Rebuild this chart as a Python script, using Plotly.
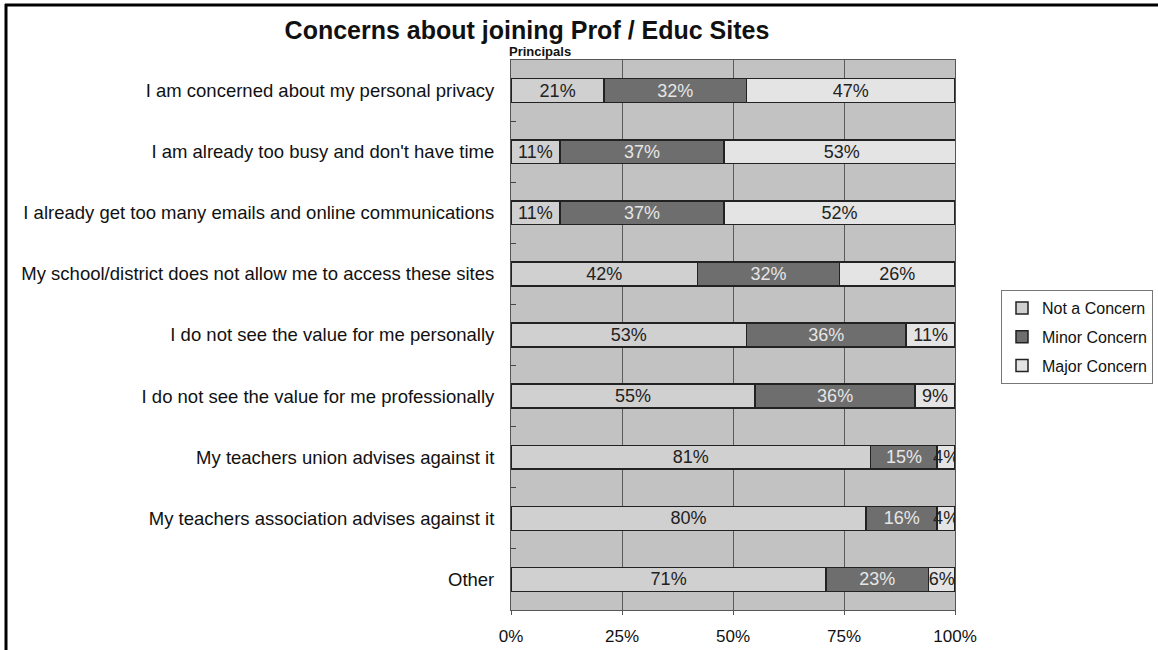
import plotly.graph_objects as go

# Survey items (top to bottom) and response shares in percent
categories = [
    "I am concerned about my personal privacy",
    "I am already too busy and don't have time",
    "I already get too many emails and online communications",
    "My school/district does not allow me to access these sites",
    "I do not see the value for me personally",
    "I do not see the value for me professionally",
    "My teachers union advises against it",
    "My teachers association advises against it",
    "Other",
]
not_a_concern = [21, 11, 11, 42, 53, 55, 81, 80, 71]
minor_concern = [32, 37, 37, 32, 36, 36, 15, 16, 23]
major_concern = [47, 53, 52, 26, 11, 9, 4, 4, 6]

x_ticks = [0, 25, 50, 75, 100]
x_tick_labels = ["0%", "25%", "50%", "75%", "100%"]

FONT = "Arial, Liberation Sans, sans-serif"
W, H = 1158, 650
# plot-area edges in page pixels
L, R, T, B = 511, 955, 60, 610

series = [
    ("Not a Concern", not_a_concern, "#d0d0d0", "#222222"),
    ("Minor Concern", minor_concern, "#6e6e6e", "#e6e6e6"),
    ("Major Concern", major_concern, "#e4e4e4", "#222222"),
]

fig = go.Figure()
for name, vals, color, txtcolor in series:
    fig.add_trace(go.Bar(
        y=categories,
        x=vals,
        name=name,
        legendgroup=name,
        orientation="h",
        width=0.39,
        marker=dict(color=color, line=dict(color="#222222", width=1.5)),
        text=[f"{v}%" for v in vals],
        textposition="inside",
        insidetextanchor="middle",
        textangle=0,
        constraintext="none",
        textfont=dict(family=FONT, size=18, color=txtcolor),
        hoverinfo="skip",
    ))


def px_x(px):
    return (px - L) / (R - L)


def px_y(py):
    return (B - py) / (B - T)


fig.update_layout(
    width=W,
    height=H,
    barmode="stack",
    paper_bgcolor="white",
    plot_bgcolor="#c2c2c2",
    margin=dict(l=L, r=W - R, t=T, b=H - B, pad=0, autoexpand=False),
    font=dict(family=FONT, color="#111111"),
    title=dict(
        text="<b>Concerns about joining Prof / Educ Sites</b>",
        x=527 / W, xanchor="center", xref="container",
        y=1 - 30 / H, yanchor="middle", yref="container",
        font=dict(family=FONT, size=25, color="#111111"),
    ),
    xaxis=dict(
        range=[0, 100],
        tickvals=x_ticks,
        ticktext=x_tick_labels,
        automargin=False,
        showgrid=True,
        gridcolor="#5a5a5a",
        gridwidth=1,
        zeroline=False,
        showline=True,
        linecolor="#555555",
        linewidth=1,
        mirror=True,
        ticks="outside",
        ticklen=4,
        tickcolor="#555555",
        ticklabelstandoff=7,
        tickfont=dict(family=FONT, size=17, color="#111111"),
    ),
    yaxis=dict(
        categoryorder="array",
        categoryarray=categories,
        autorange="reversed",
        automargin=False,
        showgrid=False,
        showline=True,
        linecolor="#555555",
        linewidth=1,
        mirror=True,
        ticks="inside",
        tickson="boundaries",
        ticklen=5,
        tickcolor="#444444",
        ticklabelstandoff=12,
        tickfont=dict(family=FONT, size=18.5, color="#111111"),
    ),
    legend=dict(
        x=px_x(1001), xanchor="left",
        y=px_y(290), yanchor="top",
        traceorder="grouped",
        tracegroupgap=5,
        bgcolor="white",
        bordercolor="#777777",
        borderwidth=1,
        font=dict(family=FONT, size=16, color="#111111"),
        itemwidth=30,
    ),
    showlegend=True,
)

fig.add_annotation(
    text="<b>Principals</b>",
    x=px_x(507), xanchor="left",
    y=px_y(52), yanchor="middle",
    xref="paper", yref="paper",
    showarrow=False,
    font=dict(family=FONT, size=13, color="#111111"),
)

# page frame: top rule and left rule
fig.add_shape(type="line", xref="paper", yref="paper",
              x0=px_x(5), x1=px_x(W + 2), y0=px_y(5), y1=px_y(5),
              line=dict(color="black", width=3))
fig.add_shape(type="line", xref="paper", yref="paper",
              x0=px_x(6), x1=px_x(6), y0=px_y(4), y1=px_y(H + 2),
              line=dict(color="black", width=3))

fig.write_html("out.html")
